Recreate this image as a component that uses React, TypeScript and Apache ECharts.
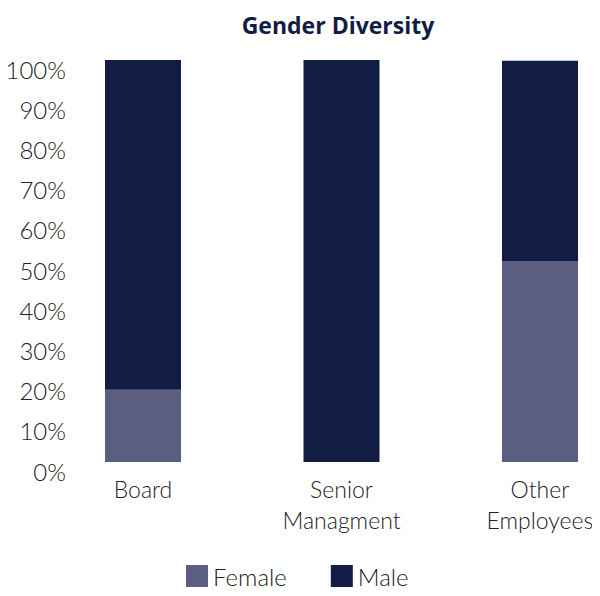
import React, { useEffect, useRef } from "react";
import * as echarts from "echarts";

const categories = ["Board", "Senior\nManagment", "Other\nEmployees"];
const femaleValues = [18, 0, 50];
const maleValues = [82, 100, 49.8];
const yTicks = [0, 10, 20, 30, 40, 50, 60, 70, 80, 90, 100];

const FONT = "Lato, 'Open Sans', sans-serif";

export default function App() {
  const ref = useRef<HTMLDivElement>(null);
  useEffect(() => {
    if (!ref.current) return;
    const chart = echarts.init(ref.current, undefined, { renderer: "svg" });
    chart.setOption({
      animation: false,
      title: {
        text: "Gender Diversity",
        left: 333,
        textAlign: "center",
        top: 8,
        textStyle: { fontFamily: "'Open Sans', Lato, sans-serif", fontSize: 23, fontWeight: "bold", color: "#111d45" },
      },
      legend: {
        data: ["Female", "Male"],
        top: 564,
        padding: 0,
        left: 186,
        icon: "rect",
        itemWidth: 22,
        itemHeight: 22,
        itemGap: 44,
        textStyle: { fontFamily: FONT, fontSize: 24, fontWeight: 300, color: "#222" },
      },
      grid: { left: 143, right: 60, top: 60, bottom: 134, containLabel: false },
      xAxis: {
        type: "category",
        data: categories,
        boundaryGap: false,
        axisLine: { show: false },
        axisTick: { show: false },
        axisLabel: {
          margin: 11,
          fontFamily: FONT,
          fontSize: 23,
          fontWeight: 300,
          lineHeight: 31,
          color: "#222",
          interval: 0,
        },
      },
      yAxis: {
        type: "value",
        min: yTicks[0],
        max: yTicks[yTicks.length - 1],
        interval: 10,
        splitLine: { show: false },
        axisLine: { show: false },
        axisTick: { show: false },
        axisLabel: {
          margin: 77,
          verticalAlign: "top",
          lineHeight: 18,
          fontFamily: FONT,
          fontSize: 24,
          fontWeight: 300,
          color: "#222",
          formatter: (v: number) => v + "%",
        },
      },
      series: [
        {
          name: "Female",
          type: "bar",
          stack: "g",
          data: femaleValues,
          barWidth: 76,
          clip: false,
          itemStyle: { color: "#5a5e80" },
        },
        {
          name: "Male",
          type: "bar",
          stack: "g",
          data: maleValues,
          barWidth: 76,
          clip: false,
          itemStyle: { color: "#111d45" },
        },
      ],
    });
    return () => chart.dispose();
  }, []);
  return <div ref={ref} style={{ width: 600, height: 596, margin: -8 }} />;
}
